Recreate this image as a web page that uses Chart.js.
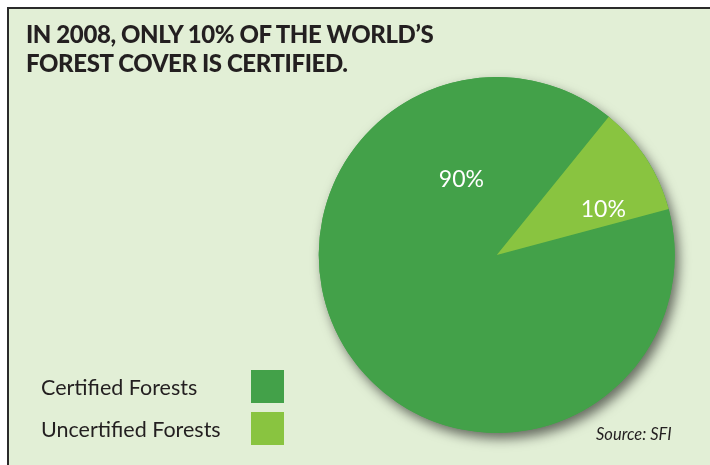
<!DOCTYPE html>
<html>
<head>
<meta charset="utf-8">
<script src="https://cdn.jsdelivr.net/npm/chart.js@4"></script>
<style>
  html, body { margin: 0; padding: 0; background: #fff; }
  #frame {
    position: absolute; left: 7px; top: 7px; width: 710px; height: 465px;
    background: #e2efd6; border-left: 2px solid #2a2a2a; border-top: 2px solid #2a2a2a;
  }
  #wrap { position: absolute; left: 0; top: 0; width: 710px; height: 465px; }
  #title {
    position: absolute; left: 26px; top: 19px; margin: 0;
    font: 900 24px Lato, sans-serif; line-height: 29px; color: #231f20;
    letter-spacing: -0.4px;
  }
  #legend { position: absolute; left: 41px; top: 370px; }
  .item { display: flex; align-items: center; height: 33px; margin-bottom: 9px; }
  .item span { width: 210px; font: 21.5px Lato, sans-serif; color: #231f20; }
  .item i { display: block; width: 33px; height: 33px; }
  #source {
    position: absolute; left: 596px; top: 424px;
    font: italic 16.5px Lato, sans-serif; color: #231f20;
  }
</style>
</head>
<body>
<div id="frame"></div>
<div id="wrap"><canvas id="chart" width="710" height="465"></canvas></div>
<div id="title">IN 2008, ONLY 10% OF THE WORLD’S<br>FOREST COVER IS CERTIFIED.</div>
<div id="legend"></div>
<div id="source">Source: SFI</div>
<script>
const categories = ["Certified Forests", "Uncertified Forests"];
const shares = [90, 10];
const sliceLabels = ["90%", "10%"];
const sliceColors = ["#43a149", "#89c440"];

// legend: text on the left, swatch on the right
const legendEl = document.getElementById("legend");
categories.forEach((name, i) => {
    const row = document.createElement("div");
    row.className = "item";
    row.innerHTML = `<span>${name}</span><i style="background:${sliceColors[i]}"></i>`;
    legendEl.appendChild(row);
});

// soft drop shadow under the whole pie, drawn before the slices
const pieShadow = {
    id: "pieShadow",
    beforeDatasetsDraw(chart) {
        const arc = chart.getDatasetMeta(0).data[0];
        if (!arc) return;
        const ctx = chart.ctx;
        ctx.save();
        ctx.shadowColor = "rgba(0,0,0,0.55)";
        ctx.shadowBlur = 12;
        ctx.shadowOffsetX = 4;
        ctx.shadowOffsetY = 6;
        ctx.fillStyle = sliceColors[0];
        ctx.beginPath();
        ctx.arc(arc.x, arc.y, arc.outerRadius, 0, Math.PI * 2);
        ctx.fill();
        ctx.restore();
    },
};

// white percent labels; angle (deg from top, clockwise) and radius fraction per slice
const sliceText = {
    id: "sliceText",
    afterDatasetsDraw(chart, args, opts) {
        const meta = chart.getDatasetMeta(0);
        const ctx = chart.ctx;
        ctx.save();
        ctx.fillStyle = "#fff";
        ctx.font = "23px Lato, sans-serif";
        ctx.textAlign = "center";
        ctx.textBaseline = "middle";
        meta.data.forEach((arc, i) => {
            const [deg, frac] = opts.anchors[i];
            const a = (deg * Math.PI) / 180;
            const r = arc.outerRadius * frac;
            ctx.fillText(sliceLabels[i], arc.x + r * Math.sin(a), arc.y - r * Math.cos(a));
        });
        ctx.restore();
    },
};

new Chart(document.getElementById("chart"), {
    type: "pie",
    data: {
        labels: categories,
        datasets: [
            {
                data: shares,
                backgroundColor: sliceColors,
                borderWidth: 0,
            },
        ],
    },
    options: {
        responsive: false,
        animation: false,
        rotation: 75,
        layout: { padding: { left: 318.5, right: 35, top: 77, bottom: 32 } },
        plugins: {
            legend: { display: false },
            tooltip: { enabled: false },
            sliceText: { anchors: [[-25, 0.47], [67, 0.65]] },
        },
    },
    plugins: [pieShadow, sliceText],
});
</script>
</body>
</html>
